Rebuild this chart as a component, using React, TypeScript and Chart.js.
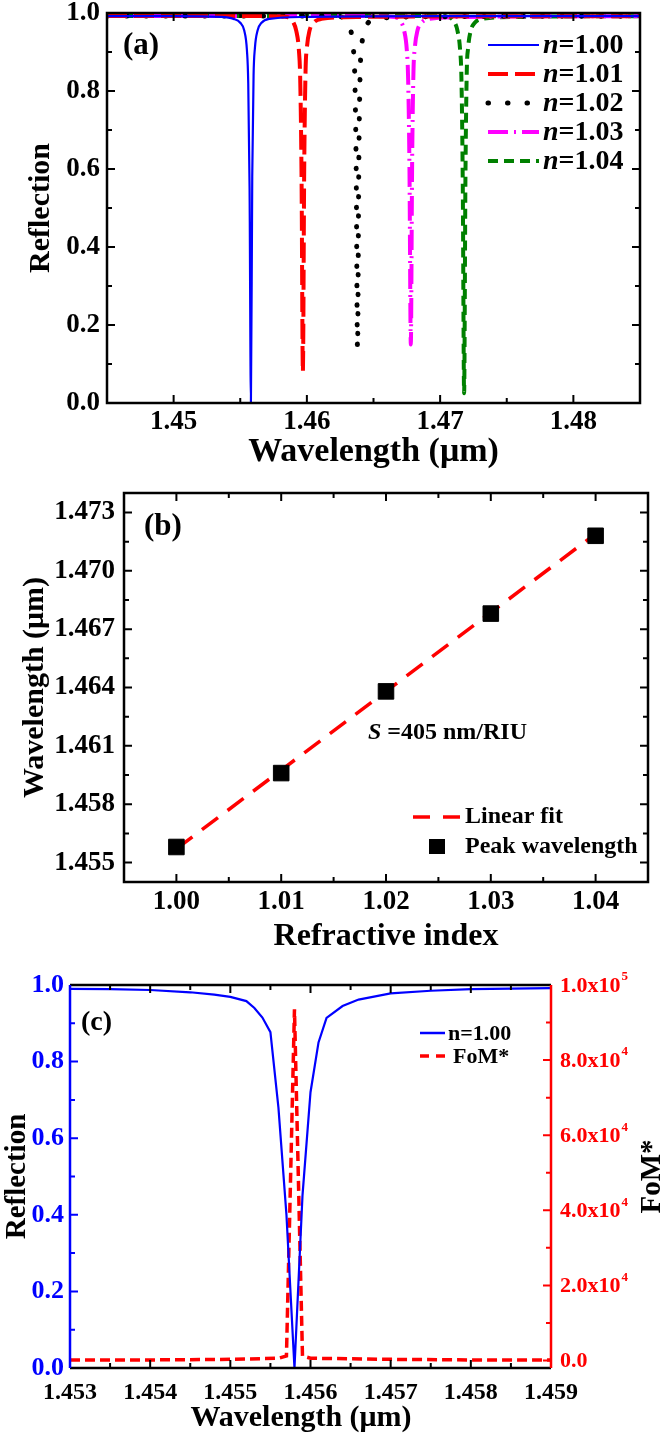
import React, { useEffect, useRef } from 'react';
import { Chart, registerables } from 'chart.js';

Chart.register(...registerables);

const FONT = '"Liberation Serif", "Times New Roman", Times, serif';
Chart.defaults.font.family = FONT;

// ================= Panel (a) =================
const A_X_TICKS = [1.45, 1.46, 1.47, 1.48];
const A_X_TICK_LABELS = ['1.45', '1.46', '1.47', '1.48'];
const A_X_MINOR = [1.455, 1.465, 1.475];
const A_Y_TICKS = [0, 0.2, 0.4, 0.6, 0.8, 1.0];
const A_Y_TICK_LABELS = ['0.0', '0.2', '0.4', '0.6', '0.8', '1.0'];
const A_Y_MINOR = [0.1, 0.3, 0.5, 0.7, 0.9];
const A_LEGEND = ['1.00', '1.01', '1.02', '1.03', '1.04'];

const A_N100_X = [1.445, 1.450, 1.4535, 1.4545, 1.4550, 1.4553, 1.4555, 1.4556, 1.4557, 1.4558, 1.4559, 1.4560, 1.4561, 1.4563, 1.4566, 1.4572, 1.4600, 1.4700, 1.485];
const A_N100_Y = [0.992, 0.992, 0.99, 0.985, 0.975, 0.955, 0.905, 0.82, 0.55, 0.0, 0.58, 0.84, 0.91, 0.955, 0.975, 0.985, 0.99, 0.992, 0.992];

const A_N101_X = [1.445, 1.4570, 1.4585, 1.4590, 1.4592, 1.4594, 1.4595, 1.4596, 1.4597, 1.4598, 1.4599, 1.4600, 1.4602, 1.4605, 1.4611, 1.4640, 1.485];
const A_N101_Y = [0.992, 0.992, 0.99, 0.975, 0.955, 0.905, 0.83, 0.58, 0.08, 0.60, 0.85, 0.91, 0.955, 0.975, 0.985, 0.99, 0.992];

const A_N102_X = [1.445, 1.4610, 1.4626, 1.4631, 1.4633, 1.4635, 1.4636, 1.4637, 1.4638, 1.4639, 1.4640, 1.4641, 1.4643, 1.4646, 1.4652, 1.4680, 1.485];
const A_N102_Y = [0.992, 0.992, 0.99, 0.975, 0.955, 0.905, 0.83, 0.60, 0.14, 0.62, 0.85, 0.91, 0.955, 0.975, 0.985, 0.99, 0.992];

const A_N103_X = [1.445, 1.4650, 1.4666, 1.4671, 1.4673, 1.4675, 1.4676, 1.4677, 1.4678, 1.4679, 1.4680, 1.4681, 1.4683, 1.4686, 1.4692, 1.4720, 1.485];
const A_N103_Y = [0.992, 0.992, 0.99, 0.975, 0.955, 0.905, 0.83, 0.60, 0.15, 0.62, 0.85, 0.91, 0.955, 0.975, 0.985, 0.99, 0.992];

const A_N104_X = [1.445, 1.4690, 1.4706, 1.4711, 1.4713, 1.4715, 1.4716, 1.4717, 1.4718, 1.4719, 1.4720, 1.4721, 1.4723, 1.4726, 1.4732, 1.4760, 1.485];
const A_N104_Y = [0.992, 0.992, 0.99, 0.975, 0.955, 0.905, 0.83, 0.56, 0.025, 0.58, 0.85, 0.91, 0.955, 0.975, 0.985, 0.99, 0.992];

// ================= Panel (b) =================
const B_X_TICKS = [1.00, 1.01, 1.02, 1.03, 1.04];
const B_X_TICK_LABELS = ['1.00', '1.01', '1.02', '1.03', '1.04'];
const B_X_MINOR = [1.005, 1.015, 1.025, 1.035];
const B_Y_TICKS = [1.455, 1.458, 1.461, 1.464, 1.467, 1.470, 1.473];
const B_Y_TICK_LABELS = ['1.455', '1.458', '1.461', '1.464', '1.467', '1.470', '1.473'];
const B_Y_MINOR = [1.4565, 1.4595, 1.4625, 1.4655, 1.4685, 1.4715];
const B_INDEX = [1.00, 1.01, 1.02, 1.03, 1.04];
const B_PEAK = [1.4558, 1.4596, 1.4638, 1.4678, 1.4718];
const B_FIT_X = [1.00, 1.04];
const B_FIT_Y = [1.4557, 1.4719];

// ================= Panel (c) =================
const C_X_TICKS = [1.453, 1.454, 1.455, 1.456, 1.457, 1.458, 1.459];
const C_X_TICK_LABELS = ['1.453', '1.454', '1.455', '1.456', '1.457', '1.458', '1.459'];
const C_X_MINOR = [1.4535, 1.4545, 1.4555, 1.4565, 1.4575, 1.4585];
const C_Y_TICKS = [0, 0.2, 0.4, 0.6, 0.8, 1.0];
const C_Y_TICK_LABELS = ['0.0', '0.2', '0.4', '0.6', '0.8', '1.0'];
const C_Y_MINOR = [0.1, 0.3, 0.5, 0.7, 0.9];
const C_Y1_TICKS = [0, 20000, 40000, 60000, 80000, 100000];
const C_Y1_MANTISSA = ['0.0', '2.0x10', '4.0x10', '6.0x10', '8.0x10', '1.0x10'];
const C_Y1_EXP = ['', '4', '4', '4', '4', '5'];
const C_Y1_MINOR = [10000, 30000, 50000, 70000, 90000];

const C_R_X = [1.4530, 1.4535, 1.4540, 1.4545, 1.4548, 1.4550, 1.4552, 1.4553, 1.4554, 1.4555, 1.4556, 1.4557, 1.4558, 1.4559, 1.4560, 1.4561, 1.4562, 1.4564, 1.4566, 1.4570, 1.4575, 1.4580, 1.4590];
const C_R_Y = [0.990, 0.989, 0.987, 0.981, 0.975, 0.969, 0.958, 0.940, 0.915, 0.877, 0.68, 0.40, 0.00, 0.45, 0.72, 0.85, 0.914, 0.945, 0.962, 0.978, 0.985, 0.989, 0.992];
const C_FOM_X = [1.4530, 1.4540, 1.4550, 1.4556, 1.4557, 1.4558, 1.4559, 1.4560, 1.4570, 1.4580, 1.4590];
const C_FOM_Y = [100, 150, 300, 600, 1200, 93500, 1200, 600, 300, 150, 100];

// ================= helpers =================
const pts = (xs: number[], ys: number[]) => xs.map((x, i) => ({ x, y: ys[i] }));
const f = (size: number, italic = false) => `${italic ? 'italic ' : ''}bold ${size}px ${FONT}`;

function xTicks(ctx: any, scale: any, a: any, values: number[], len: number, color: string, top = true, bottom = true) {
  ctx.strokeStyle = color;
  ctx.beginPath();
  values.forEach((v) => {
    const p = scale.getPixelForValue(v);
    if (bottom) { ctx.moveTo(p, a.bottom); ctx.lineTo(p, a.bottom - len); }
    if (top) { ctx.moveTo(p, a.top); ctx.lineTo(p, a.top + len); }
  });
  ctx.stroke();
}
function yTicks(ctx: any, scale: any, a: any, values: number[], len: number, color: string, left = true, right = true) {
  ctx.strokeStyle = color;
  ctx.beginPath();
  values.forEach((v) => {
    const p = scale.getPixelForValue(v);
    if (left) { ctx.moveTo(a.left, p); ctx.lineTo(a.left + len, p); }
    if (right) { ctx.moveTo(a.right, p); ctx.lineTo(a.right - len, p); }
  });
  ctx.stroke();
}
function legendLine(ctx: any, x0: number, x1: number, y: number, color: string, width: number, dash: number[], cap: string) {
  ctx.save();
  ctx.strokeStyle = color;
  ctx.lineWidth = width;
  ctx.setLineDash(dash);
  ctx.lineCap = cap;
  ctx.beginPath();
  ctx.moveTo(x0, y);
  ctx.lineTo(x1, y);
  ctx.stroke();
  ctx.restore();
}
function rich(ctx: any, parts: [string, string][], x: number, y: number) {
  let cx = x;
  parts.forEach(([t, font]) => {
    ctx.font = font;
    ctx.fillText(t, cx, y);
    cx += ctx.measureText(t).width;
  });
}

const baseOpts = {
  responsive: false,
  animation: false as const,
  events: [] as any[],
  plugins: { legend: { display: false }, tooltip: { enabled: false } },
};

const noGrid = { display: false, drawTicks: false, drawOnChartArea: false };

const A_STYLES = [
  { color: '#0000FF', width: 2.2, dash: [] as number[], cap: 'butt' },
  { color: '#FF0000', width: 4, dash: [20, 7], cap: 'butt' },
  { color: '#000000', width: 5, dash: [0.5, 19], cap: 'round' },
  { color: '#FF00FF', width: 4, dash: [20, 6, 2, 6], cap: 'butt' },
  { color: '#008000', width: 4, dash: [10, 6], cap: 'butt' },
];

function makeA(canvas: HTMLCanvasElement) {
  const series = [
    pts(A_N100_X, A_N100_Y),
    pts(A_N101_X, A_N101_Y),
    pts(A_N102_X, A_N102_Y),
    pts(A_N103_X, A_N103_Y),
    pts(A_N104_X, A_N104_Y),
  ];
  const decor = {
    id: 'decorA',
    afterDraw(chart: any) {
      const { ctx, chartArea: a, scales } = chart;
      ctx.save();
      ctx.lineWidth = 2;
      xTicks(ctx, scales.x, a, A_X_TICKS, 8, '#000');
      xTicks(ctx, scales.x, a, A_X_MINOR, 5, '#000');
      yTicks(ctx, scales.y, a, A_Y_TICKS, 8, '#000');
      yTicks(ctx, scales.y, a, A_Y_MINOR, 5, '#000');
      ctx.lineWidth = 2.5;
      ctx.strokeStyle = '#000';
      ctx.strokeRect(a.left, a.top, a.right - a.left, a.bottom - a.top);
      ctx.fillStyle = '#000';
      ctx.textBaseline = 'middle';
      ctx.textAlign = 'left';
      ctx.font = f(31);
      ctx.fillText('(a)', 123, 46);
      A_LEGEND.forEach((lab, i) => {
        const y = 45 + 29 * i;
        const s = A_STYLES[i];
        legendLine(ctx, 488, 539, y, s.color, s.width, s.dash, s.cap);
        ctx.fillStyle = '#000';
        rich(ctx, [['n', f(28, true)], ['=' + lab, f(28)]], 543, y + 1);
      });
      ctx.restore();
    },
  };
  return new Chart(canvas, {
    type: 'line',
    data: {
      datasets: series.map((d, i) => ({
        data: d,
        borderColor: A_STYLES[i].color,
        borderWidth: A_STYLES[i].width,
        borderDash: A_STYLES[i].dash,
        borderCapStyle: A_STYLES[i].cap,
        pointRadius: 0,
        fill: false,
        cubicInterpolationMode: 'monotone',
      })),
    },
    options: {
      ...baseOpts,
      layout: { padding: { top: 13, right: 26, bottom: 0, left: 0 } },
      scales: {
        x: {
          type: 'linear', min: 1.445, max: 1.485,
          afterBuildTicks: (s: any) => { s.ticks = A_X_TICKS.map((v) => ({ value: v })); },
          afterFit: (s: any) => { s.height = 77; s.paddingLeft = 0; s.paddingRight = 0; },
          grid: noGrid, border: { display: false },
          ticks: { autoSkip: false, maxRotation: 0, padding: 3, color: '#000', font: { size: 27, weight: 'bold' }, callback: (_v: any, i: number) => A_X_TICK_LABELS[i] },
          title: { display: true, text: 'Wavelength (μm)', color: '#000', font: { size: 34, weight: 'bold' }, padding: { top: 0, bottom: 7 } },
        },
        y: {
          type: 'linear', min: 0, max: 1.0,
          afterBuildTicks: (s: any) => { s.ticks = A_Y_TICKS.map((v) => ({ value: v })); },
          afterFit: (s: any) => { s.width = 107; s.paddingTop = 0; s.paddingBottom = 0; },
          grid: noGrid, border: { display: false },
          ticks: { autoSkip: false, padding: 7, color: '#000', font: { size: 27, weight: 'bold' }, callback: (_v: any, i: number) => A_Y_TICK_LABELS[i] },
          title: { display: true, text: 'Reflection', color: '#000', font: { size: 30, weight: 'bold' }, padding: { top: 23, bottom: 0 } },
        },
      },
    },
    plugins: [decor],
  } as any);
}

function makeB(canvas: HTMLCanvasElement) {
  const decor = {
    id: 'decorB',
    afterDraw(chart: any) {
      const { ctx, chartArea: a, scales } = chart;
      ctx.save();
      ctx.lineWidth = 2;
      xTicks(ctx, scales.x, a, B_X_TICKS, 8, '#000');
      xTicks(ctx, scales.x, a, B_X_MINOR, 5, '#000');
      yTicks(ctx, scales.y, a, B_Y_TICKS, 8, '#000');
      yTicks(ctx, scales.y, a, B_Y_MINOR, 5, '#000');
      ctx.lineWidth = 2.5;
      ctx.strokeStyle = '#000';
      ctx.strokeRect(a.left, a.top, a.right - a.left, a.bottom - a.top);
      ctx.fillStyle = '#000';
      ctx.textBaseline = 'middle';
      ctx.textAlign = 'left';
      ctx.font = f(31);
      ctx.fillText('(b)', 144, 47);
      rich(ctx, [['S', f(24, true)], [' =405 nm/RIU', f(24)]], 368, 253);
      legendLine(ctx, 413, 460, 337, '#FF0000', 3.5, [17, 13], 'butt');
      ctx.fillStyle = '#000';
      ctx.font = f(24);
      ctx.fillText('Linear fit', 465, 337);
      ctx.fillRect(429, 359, 16, 15);
      ctx.fillText('Peak wavelength', 465, 367);
      ctx.restore();
    },
  };
  return new Chart(canvas, {
    type: 'line',
    data: {
      datasets: [
        {
          data: pts(B_INDEX, B_PEAK), showLine: false, pointStyle: 'rect', pointRadius: 11,
          backgroundColor: '#000', borderColor: '#000', borderWidth: 1,
        },
        {
          data: pts(B_FIT_X, B_FIT_Y), borderColor: '#FF0000', borderWidth: 3.5, borderDash: [20, 12],
          pointRadius: 0, fill: false,
        },
      ],
    },
    options: {
      ...baseOpts,
      layout: { padding: { top: 13, right: 18, bottom: 0, left: 0 } },
      scales: {
        x: {
          type: 'linear', min: 0.995, max: 1.045,
          afterBuildTicks: (s: any) => { s.ticks = B_X_TICKS.map((v) => ({ value: v })); },
          afterFit: (s: any) => { s.height = 78; s.paddingLeft = 0; s.paddingRight = 0; },
          grid: noGrid, border: { display: false },
          ticks: { autoSkip: false, maxRotation: 0, padding: 4, color: '#000', font: { size: 27, weight: 'bold' }, callback: (_v: any, i: number) => B_X_TICK_LABELS[i] },
          title: { display: true, text: 'Refractive index', color: '#000', font: { size: 32, weight: 'bold' }, padding: { top: 0, bottom: 4 } },
        },
        y: {
          type: 'linear', min: 1.454, max: 1.474,
          afterBuildTicks: (s: any) => { s.ticks = B_Y_TICKS.map((v) => ({ value: v })); },
          afterFit: (s: any) => { s.width = 124; s.paddingTop = 0; s.paddingBottom = 0; },
          grid: noGrid, border: { display: false },
          ticks: { autoSkip: false, padding: 9, color: '#000', font: { size: 27, weight: 'bold' }, callback: (_v: any, i: number) => B_Y_TICK_LABELS[i] },
          title: { display: true, text: 'Wavelength (μm)', color: '#000', font: { size: 30, weight: 'bold' }, padding: { top: 17, bottom: 0 } },
        },
      },
    },
    plugins: [decor],
  } as any);
}

function makeC(canvas: HTMLCanvasElement) {
  const decor = {
    id: 'decorC',
    afterDraw(chart: any) {
      const { ctx, chartArea: a, scales } = chart;
      ctx.save();
      ctx.lineWidth = 2;
      xTicks(ctx, scales.x, a, C_X_TICKS, 8, '#000');
      xTicks(ctx, scales.x, a, C_X_MINOR, 5, '#000');
      yTicks(ctx, scales.y, a, C_Y_TICKS, 8, '#0000FF', true, false);
      yTicks(ctx, scales.y, a, C_Y_MINOR, 5, '#0000FF', true, false);
      yTicks(ctx, scales.y1, a, C_Y1_TICKS, 8, '#FF0000', false, true);
      yTicks(ctx, scales.y1, a, C_Y1_MINOR, 5, '#FF0000', false, true);
      ctx.lineWidth = 2.5;
      ctx.strokeStyle = '#000';
      ctx.beginPath();
      ctx.moveTo(a.left, a.top); ctx.lineTo(a.right, a.top);
      ctx.moveTo(a.left, a.bottom); ctx.lineTo(a.right, a.bottom);
      ctx.stroke();
      ctx.strokeStyle = '#0000FF';
      ctx.beginPath(); ctx.moveTo(a.left, a.top); ctx.lineTo(a.left, a.bottom); ctx.stroke();
      ctx.strokeStyle = '#FF0000';
      ctx.beginPath(); ctx.moveTo(a.right, a.top); ctx.lineTo(a.right, a.bottom); ctx.stroke();

      // right axis labels with superscripts
      ctx.fillStyle = '#FF0000';
      ctx.textAlign = 'left';
      ctx.textBaseline = 'middle';
      C_Y1_TICKS.forEach((v, i) => {
        const p = scales.y1.getPixelForValue(v);
        ctx.font = f(22);
        ctx.fillText(C_Y1_MANTISSA[i], 560, p + 1);
        const w = ctx.measureText(C_Y1_MANTISSA[i]).width;
        if (C_Y1_EXP[i]) {
          ctx.font = f(13);
          ctx.fillText(C_Y1_EXP[i], 560 + w + 1, p - 8);
        }
      });
      // right title
      ctx.save();
      ctx.fillStyle = '#000';
      ctx.font = f(29);
      ctx.textAlign = 'center';
      ctx.translate(653, (a.top + a.bottom) / 2);
      ctx.rotate(-Math.PI / 2);
      ctx.fillText('FoM*', 0, 0);
      ctx.restore();

      // bottom title
      ctx.fillStyle = '#000';
      ctx.textAlign = 'center';
      ctx.font = f(30);
      ctx.fillText('Wavelength (μm)', 301, 458);

      ctx.textAlign = 'left';
      ctx.font = f(28);
      ctx.fillText('(c)', 81, 63);
      legendLine(ctx, 420, 445, 73, '#0000FF', 2.5, [], 'butt');
      legendLine(ctx, 420, 445, 96, '#FF0000', 3.5, [9, 7], 'butt');
      ctx.fillStyle = '#000';
      ctx.font = f(22);
      ctx.fillText('n=1.00', 448, 74);
      ctx.fillText('FoM*', 453, 97);
      ctx.restore();
    },
  };
  return new Chart(canvas, {
    type: 'line',
    data: {
      datasets: [
        {
          data: pts(C_R_X, C_R_Y), yAxisID: 'y', borderColor: '#0000FF', borderWidth: 2.2,
          pointRadius: 0, fill: false, tension: 0,
        },
        {
          data: pts(C_FOM_X, C_FOM_Y), yAxisID: 'y1', borderColor: '#FF0000', borderWidth: 3.5,
          borderDash: [10, 5], pointRadius: 0, fill: false, tension: 0,
        },
      ],
    },
    options: {
      ...baseOpts,
      layout: { padding: { top: 25, right: 0, bottom: 0, left: 0 } },
      scales: {
        x: {
          type: 'linear', min: 1.453, max: 1.459,
          afterBuildTicks: (s: any) => { s.ticks = C_X_TICKS.map((v) => ({ value: v })); },
          afterFit: (s: any) => { s.height = 71; s.paddingLeft = 0; s.paddingRight = 0; },
          grid: noGrid, border: { display: false },
          ticks: { autoSkip: false, maxRotation: 0, padding: 10, color: '#000', font: { size: 24, weight: 'bold' }, callback: (_v: any, i: number) => C_X_TICK_LABELS[i] },
          title: { display: false },
        },
        y: {
          type: 'linear', position: 'left', min: 0, max: 1.0,
          afterBuildTicks: (s: any) => { s.ticks = C_Y_TICKS.map((v) => ({ value: v })); },
          afterFit: (s: any) => { s.width = 70; s.paddingTop = 0; s.paddingBottom = 0; },
          grid: noGrid, border: { display: false },
          ticks: { autoSkip: false, padding: 6, color: '#0000FF', font: { size: 26, weight: 'bold' }, callback: (_v: any, i: number) => C_Y_TICK_LABELS[i] },
          title: { display: true, text: 'Reflection', color: '#000', font: { size: 29, weight: 'bold' }, padding: { top: 0, bottom: 0 } },
        },
        y1: {
          type: 'linear', position: 'right', min: -2000, max: 100000,
          afterBuildTicks: (s: any) => { s.ticks = C_Y1_TICKS.map((v) => ({ value: v })); },
          afterFit: (s: any) => { s.width = 115; s.paddingTop = 0; s.paddingBottom = 0; },
          grid: noGrid, border: { display: false },
          ticks: { display: false },
        },
      },
    },
    plugins: [decor],
  } as any);
}

export default function App() {
  const refA = useRef<HTMLCanvasElement>(null);
  const refB = useRef<HTMLCanvasElement>(null);
  const refC = useRef<HTMLCanvasElement>(null);
  useEffect(() => {
    document.body.style.margin = '0';
    const charts = [makeA(refA.current!), makeB(refB.current!), makeC(refC.current!)];
    return () => charts.forEach((c) => c.destroy());
  }, []);
  const cs = (top: number, h: number): React.CSSProperties => ({ position: 'absolute', left: 0, top, width: 666, height: h, display: 'block' });
  return (
    <div style={{ position: 'relative', width: 666, height: 1439, background: '#fff', overflow: 'hidden' }}>
      <canvas ref={refA} width={666} height={480} style={cs(0, 480)} />
      <canvas ref={refB} width={666} height={480} style={cs(480, 480)} />
      <canvas ref={refC} width={666} height={479} style={cs(960, 479)} />
    </div>
  );
}
